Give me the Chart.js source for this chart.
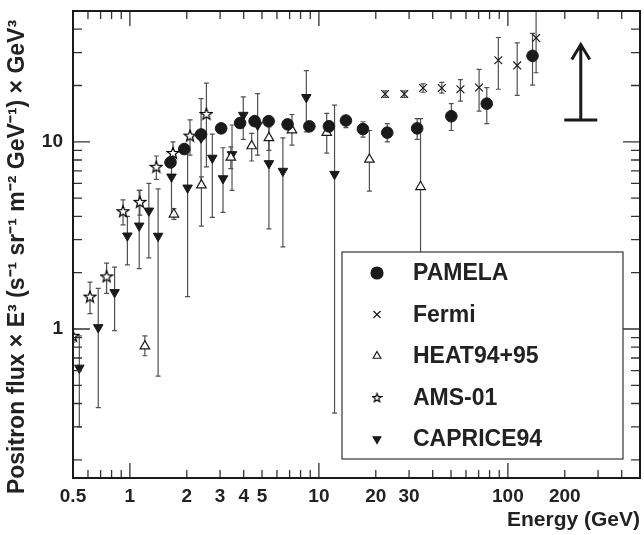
<!DOCTYPE html>
<html>
<head>
<meta charset="utf-8">
<script src="https://cdn.jsdelivr.net/npm/chart.js@4.4.0/dist/chart.umd.min.js"></script>
<style>
  html, body { margin: 0; padding: 0; background: #fff; }
</style>
</head>
<body>
<canvas id="chart" width="644" height="535"></canvas>
<script>
// PAMELA
const pamelaE  = [1.64, 1.94, 2.38, 3.04, 3.83, 4.57, 5.42, 6.83, 8.9, 11.3, 13.9, 17.1, 23.0, 33.1, 50.2, 77.3, 135];
const pamelaF  = [7.76, 9.15, 10.95, 11.8, 12.6, 12.9, 12.9, 12.4, 12.1, 12.1, 13.0, 11.7, 11.2, 11.8, 13.7, 16.0, 28.8];
const pamelaLo = [7.3, 8.7, 10.4, 11.3, 12.1, 12.4, 12.4, 11.8, 11.4, 11.3, 11.9, 10.6, 10.0, 10.3, 11.5, 12.5, 20.1];
const pamelaHi = [8.3, 9.6, 11.5, 12.3, 13.1, 13.4, 13.4, 13.0, 12.8, 12.9, 13.6, 12.8, 12.5, 13.3, 16.0, 19.5, 38.0];
// Fermi
const fermiE  = [22.4, 28.3, 35.6, 44.7, 56.1, 70.4, 89, 112, 141];
const fermiF  = [18.0, 18.0, 19.4, 19.4, 19.1, 19.5, 27.3, 25.6, 35.9];
const fermiLo = [17.3, 17.3, 18.4, 18.2, 16.5, 14.6, 19.1, 17.7, 23.4];
const fermiHi = [18.7, 18.7, 20.4, 20.8, 21.5, 24.4, 36.1, 33.8, 52.0];
// HEAT94+95
const heatE  = [1.20, 1.71, 2.39, 3.42, 4.41, 5.44, 7.2, 11.0, 18.5, 34.5];
const heatF  = [0.81, 4.1, 5.87, 8.26, 9.5, 10.5, 11.55, 11.2, 8.05, 5.75];
const heatLo = [0.72, 3.85, 3.55, 7.2, 7.9, 9.0, 9.6, 8.7, 5.45, 1.0];
const heatHi = [0.92, 4.4, 6.5, 9.4, 11.1, 12.0, 14.0, 14.2, 11.5, 13.3];
// AMS-01
const amsE  = [0.50, 0.615, 0.753, 0.92, 1.13, 1.38, 1.69, 2.08, 2.54];
const amsF  = [0.92, 1.49, 1.91, 4.26, 4.78, 7.36, 8.73, 10.8, 14.1];
const amsLo = [0.85, 1.21, 1.55, 3.6, 4.06, 6.3, 7.5, 8.5, 7.35];
const amsHi = [1.0, 1.78, 2.25, 4.9, 5.5, 8.4, 10.0, 13.1, 20.6];
// CAPRICE94
const capE  = [0.54, 0.68, 0.83, 0.97, 1.12, 1.26, 1.41, 1.66, 2.02, 2.38, 2.73, 3.11, 3.47, 3.98, 4.74, 5.44, 6.45, 8.58, 12.1];
const capF  = [0.62, 1.02, 1.57, 3.15, 3.56, 4.28, 3.14, 6.5, 5.68, 10.5, 8.2, 6.37, 8.57, 13.9, 12.3, 7.67, 6.98, 17.3, 6.72];
const capLo = [0.30, 0.38, 0.98, 2.2, 2.1, 2.4, 0.56, 4.0, 1.49, 6.0, 3.95, 4.2, 5.5, 10.3, 8.5, 3.43, 2.75, 11.3, 0.355];
const capHi = [0.92, 1.65, 2.14, 4.0, 5.5, 6.0, 5.6, 7.8, 9.0, 17.0, 11.0, 9.3, 12.3, 17.4, 18.1, 12.5, 10.5, 24.0, 15.7];

// upward arrow
const arrowE = 243, arrowLo = 13.1, arrowHi = 33.5;

const xTicks = [0.5, 1, 2, 3, 4, 5, 10, 20, 30, 100, 200];
const yTicks = [1, 10];
const xMin = 0.5, xMax = 500, yMin = 0.16, yMax = 50;
const yTitle = 'Positron flux \u00d7 E\u00b3 (s\u207b\u00b9 sr\u207b\u00b9 m\u207b\u00b2 GeV\u207b\u00b9) \u00d7 GeV\u00b3';

const FONT = "'Liberation Sans', Arial, Helvetica, sans-serif";
const INK = '#1a1a1a';

// open five-point star as point style
function makeStar(size) {
    const c = document.createElement('canvas');
    c.width = size; c.height = size;
    const g = c.getContext('2d');
    const cx = size / 2, cy = size / 2 + 0.5, ro = size / 2 - 1, ri = ro * 0.42;
    g.beginPath();
    for (let i = 0; i < 10; i++) {
        const r = i % 2 ? ri : ro;
        const a = -Math.PI / 2 + i * Math.PI / 5;
        g.lineTo(cx + r * Math.cos(a), cy + r * Math.sin(a));
    }
    g.closePath();
    g.fillStyle = '#fff';
    g.fill();
    g.strokeStyle = '#000';
    g.lineWidth = 1.2;
    g.stroke();
    return c;
}
const starImg = makeStar(14);
const starSmall = makeStar(11);

const pts = (xs, ys) => xs.map((x, i) => ({ x: x, y: ys[i] }));

const errSets = [
    { x: pamelaE, lo: pamelaLo, hi: pamelaHi },
    { x: fermiE, lo: fermiLo, hi: fermiHi },
    { x: heatE, lo: heatLo, hi: heatHi },
    { x: amsE, lo: amsLo, hi: amsHi },
    { x: capE, lo: capLo, hi: capHi }
];

const noPad = s => { s.paddingTop = 0; s.paddingBottom = 0; s.paddingLeft = 0; s.paddingRight = 0; };

const errorBars = {
    id: 'errorBars',
    beforeDatasetsDraw(chart) {
        const { ctx, chartArea: a, scales: { x, y } } = chart;
        ctx.save();
        ctx.beginPath();
        ctx.rect(a.left, a.top, a.right - a.left, a.bottom - a.top);
        ctx.clip();
        ctx.strokeStyle = '#505050';
        ctx.lineWidth = 1.2;
        errSets.forEach(s => {
            s.x.forEach((e, i) => {
                const px = x.getPixelForValue(e);
                const p1 = y.getPixelForValue(s.lo[i]);
                const p2 = y.getPixelForValue(s.hi[i]);
                ctx.beginPath();
                ctx.moveTo(px, p1); ctx.lineTo(px, p2);
                ctx.moveTo(px - 2.5, p1); ctx.lineTo(px + 2.5, p1);
                ctx.moveTo(px - 2.5, p2); ctx.lineTo(px + 2.5, p2);
                ctx.stroke();
            });
        });
        ctx.restore();
    }
};

const frame = {
    id: 'frame',
    afterDatasetsDraw(chart) {
        const { ctx, chartArea: a, scales: { x, y } } = chart;
        ctx.save();
        // arrow
        const ax = x.getPixelForValue(arrowE);
        const ab = y.getPixelForValue(arrowLo);
        const at = y.getPixelForValue(arrowHi);
        ctx.strokeStyle = INK;
        ctx.lineWidth = 3;
        ctx.beginPath();
        ctx.moveTo(ax, ab); ctx.lineTo(ax, at);
        ctx.moveTo(ax - 16.5, ab); ctx.lineTo(ax + 16.5, ab);
        ctx.moveTo(ax - 9, at + 16); ctx.lineTo(ax, at + 1); ctx.lineTo(ax + 9, at + 16);
        ctx.stroke();

        // inward ticks on all four sides
        ctx.strokeStyle = '#333';
        ctx.lineWidth = 1.3;
        ctx.beginPath();
        [0.1, 1, 10, 100].forEach(d => {
            for (let m = 1; m <= 9; m++) {
                const v = m * d;
                if (v < xMin || v > xMax) continue;
                const px = x.getPixelForValue(v);
                const len = m === 1 ? 15 : 8;
                ctx.moveTo(px, a.bottom); ctx.lineTo(px, a.bottom - len);
                ctx.moveTo(px, a.top); ctx.lineTo(px, a.top + len);
            }
        });
        [0.1, 1, 10].forEach(d => {
            for (let m = 1; m <= 9; m++) {
                const v = m * d;
                if (v < yMin || v > yMax) continue;
                const py = y.getPixelForValue(v);
                const len = m === 1 ? 17 : 9;
                ctx.moveTo(a.left, py); ctx.lineTo(a.left + len, py);
                ctx.moveTo(a.right, py); ctx.lineTo(a.right - len, py);
            }
        });
        ctx.stroke();

        ctx.lineWidth = 2;
        ctx.strokeStyle = INK;
        ctx.strokeRect(a.left, a.top, a.right - a.left, a.bottom - a.top);

        // legend
        const bx = a.left + 269, by = a.top + 241, bw = 281, bh = 207;
        ctx.fillStyle = '#fff';
        ctx.fillRect(bx, by, bw, bh);
        ctx.lineWidth = 1.2;
        ctx.strokeStyle = '#333';
        ctx.strokeRect(bx, by, bw, bh);
        const marks = [
            { pointStyle: 'circle', radius: 6, rotation: 0, borderWidth: 1, fill: INK },
            { pointStyle: 'crossRot', radius: 5, rotation: 0, borderWidth: 1.1, fill: INK },
            { pointStyle: 'triangle', radius: 4.5, rotation: 0, borderWidth: 1, fill: '#fff' },
            { pointStyle: starSmall, radius: 5, rotation: 0, borderWidth: 1, fill: '#fff' },
            { pointStyle: 'triangle', radius: 4.5, rotation: 180, borderWidth: 1, fill: INK }
        ];
        ctx.font = "bold 23px " + FONT;
        ctx.textBaseline = 'middle';
        chart.data.datasets.forEach((ds, i) => {
            const ry = by + 21 + i * 41.5;
            const mx = bx + 35;
            ctx.fillStyle = marks[i].fill;
            ctx.strokeStyle = INK;
            Chart.helpers.drawPoint(ctx, marks[i], mx, ry);
            ctx.fillStyle = '#222';
            ctx.fillText(ds.label, bx + 71, ry + 1);
        });

        // y axis title, rotated
        ctx.translate(18, a.top + 246);
        ctx.rotate(-Math.PI / 2);
        ctx.font = "bold 23px " + FONT;
        ctx.textAlign = 'center';
        ctx.textBaseline = 'middle';
        ctx.fillStyle = '#222';
        ctx.fillText(yTitle, 0, 0);
        ctx.restore();
    }
};

new Chart(document.getElementById('chart').getContext('2d'), {
    type: 'scatter',
    data: {
        datasets: [
            { label: 'PAMELA', data: pts(pamelaE, pamelaF), pointStyle: 'circle', pointRadius: 5.8,
              backgroundColor: INK, borderColor: INK, borderWidth: 1 },
            { label: 'Fermi', data: pts(fermiE, fermiF), pointStyle: 'crossRot', pointRadius: 5.5,
              backgroundColor: INK, borderColor: INK, borderWidth: 1.2 },
            { label: 'HEAT94+95', data: pts(heatE, heatF), pointStyle: 'triangle', pointRadius: 5.5,
              backgroundColor: '#fff', borderColor: INK, borderWidth: 1.2 },
            { label: 'AMS-01', data: pts(amsE, amsF), pointStyle: starImg, pointRadius: 6,
              backgroundColor: '#fff', borderColor: INK, borderWidth: 1 },
            { label: 'CAPRICE94', data: pts(capE, capF), pointStyle: 'triangle', pointRotation: 180, pointRadius: 5.5,
              backgroundColor: INK, borderColor: INK, borderWidth: 1 }
        ]
    },
    options: {
        responsive: false,
        animation: false,
        events: [],
        layout: { autoPadding: false, padding: { top: 11, right: 4, left: 0, bottom: 0 } },
        plugins: { legend: { display: false }, tooltip: { enabled: false } },
        scales: {
            x: {
                type: 'logarithmic',
                min: xMin, max: xMax,
                grid: { display: false, drawTicks: false },
                border: { display: false },
                afterBuildTicks: s => { s.ticks = xTicks.map(v => ({ value: v })); },
                afterFit: s => { s.height = 57; noPad(s); },
                ticks: {
                    autoSkip: false, maxRotation: 0, padding: 7, color: '#222',
                    font: { family: FONT, size: 19, weight: 'bold' },
                    callback: v => String(v)
                },
                title: {
                    display: true, text: 'Energy (GeV)', align: 'end', color: '#222',
                    font: { family: FONT, size: 21, weight: 'bold' },
                    padding: { top: 0, bottom: 2 }
                }
            },
            y: {
                type: 'logarithmic',
                min: yMin, max: yMax,
                grid: { display: false, drawTicks: false },
                border: { display: false },
                afterBuildTicks: s => { s.ticks = yTicks.map(v => ({ value: v })); },
                afterFit: s => { s.width = 73; noPad(s); },
                ticks: {
                    padding: 10, color: '#222',
                    font: { family: FONT, size: 19, weight: 'bold' },
                    callback: v => String(v)
                },
                title: { display: false }
            }
        }
    },
    plugins: [errorBars, frame]
});
</script>
</body>
</html>
